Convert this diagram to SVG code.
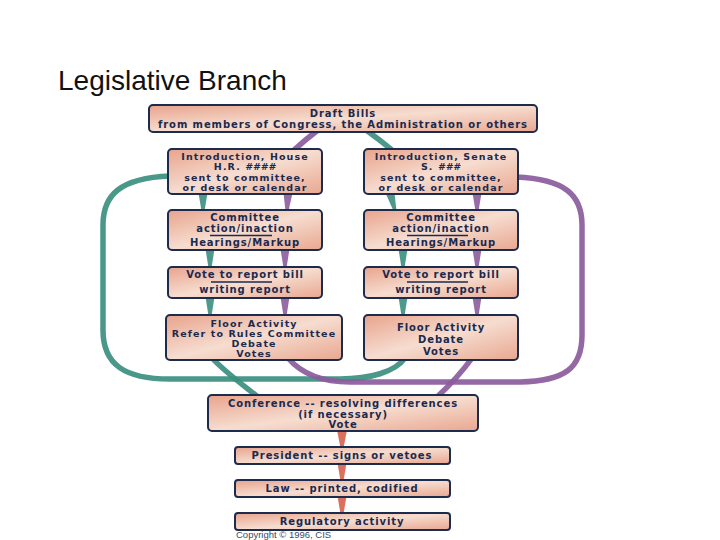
<svg xmlns="http://www.w3.org/2000/svg" width="720" height="540" viewBox="0 0 720 540">
<defs>
<linearGradient id="boxfill" x1="0" y1="0" x2="1" y2="1">
<stop offset="0" stop-color="#e8a38c"/>
<stop offset="0.5" stop-color="#f6ddd0"/>
<stop offset="1" stop-color="#e9a790"/>
</linearGradient>
<style>
.box{fill:url(#boxfill);stroke:#1d2b4d;stroke-width:2}
.t{font-family:"DejaVu Sans",Verdana,sans-serif;font-weight:bold;font-size:10px;letter-spacing:0.9px;fill:#1b2a4e;text-anchor:middle}
.t4{font-size:9.5px;letter-spacing:1.1px}
.sep{stroke:#1b2a4e;stroke-width:1.3}
.teal{fill:none;stroke:#3a8f7f;stroke-width:5.5;stroke-opacity:0.92}
.purple{fill:none;stroke:#8b5b9c;stroke-width:5.5;stroke-opacity:0.92}
.tealw{fill:#3a8f7f;fill-opacity:0.9}
.purplew{fill:#8b5b9c;fill-opacity:0.9}
.redw{fill:#d7604c;fill-opacity:0.9}
.title{font-family:"Liberation Sans",Arial,sans-serif;font-size:28px;fill:#111}
.copy{font-family:"Liberation Sans",Arial,sans-serif;font-size:9.5px;fill:#3a4a6a}
</style>
</defs>
<rect width="720" height="540" fill="#ffffff"/>
<text class="title" x="58" y="90">Legislative Branch</text>

<g id="connectors">
<path class="teal" d="M366,130 Q380,140 392,150"/>
<path class="tealw" d="M198.5,193 L207.5,193 L204.5,211 L201.5,211 Z"/>
<path class="tealw" d="M205.5,249 L214.5,249 L211.5,268 L208.5,268 Z"/>
<path class="tealw" d="M205.5,297 L214.5,297 L211.5,316 L208.5,316 Z"/>
<path class="tealw" d="M385.5,193 L394.5,193 L396.5,211 L393.5,211 Z"/>
<path class="tealw" d="M398.5,249 L407.5,249 L404.5,268 L401.5,268 Z"/>
<path class="tealw" d="M398.5,297 L407.5,297 L404.5,316 L401.5,316 Z"/>
<path class="teal" d="M405,358 C395,372 370,379 340,379 L170,379 C125,379 103,365 103,330 L103,225 C103,195 120,178 170,176"/>
<path class="teal" d="M212,358 C225,372 243,385 258,397"/>
<path class="purple" d="M318,130 Q305,140 294,150"/>
<path class="purplew" d="M283.5,193 L292.5,193 L288.5,211 L285.5,211 Z"/>
<path class="purplew" d="M280.5,249 L289.5,249 L286.5,268 L283.5,268 Z"/>
<path class="purplew" d="M280.5,297 L289.5,297 L286.5,316 L283.5,316 Z"/>
<path class="purplew" d="M472.5,193 L481.5,193 L478.5,211 L475.5,211 Z"/>
<path class="purplew" d="M472.5,249 L481.5,249 L478.5,268 L475.5,268 Z"/>
<path class="purplew" d="M472.5,297 L481.5,297 L478.5,316 L475.5,316 Z"/>
<path class="purple" d="M288,358 C300,372 320,382 350,382 L520,382 C565,381 582,368 582,335 L582,225 C582,195 565,179 516,177"/>
<path class="purple" d="M472,358 C462,372 450,385 437,397"/>
<path class="redw" d="M337,430 L347,430 L343.5,448 L340.5,448 Z"/>
<path class="redw" d="M337.5,463 L346.5,463 L343.5,481 L340.5,481 Z"/>
<path class="redw" d="M337.5,496 L346.5,496 L343.5,514 L340.5,514 Z"/>
</g>

<g id="draft">
<rect class="box" x="149" y="105" width="388" height="27" rx="4"/>
<text class="t" x="343" y="117">Draft Bills</text>
<text class="t" x="343" y="128">from members of Congress, the Administration or others</text>
</g>

<g id="house-intro">
<rect class="box" x="168" y="149" width="154" height="45" rx="4"/>
<text class="t t4" x="245" y="160">Introduction, House</text>
<text class="t t4" x="245" y="170">H.R. <tspan font-style="italic">####</tspan></text>
<text class="t t4" x="245" y="180.5">sent to committee,</text>
<text class="t t4" x="245" y="190.5">or desk or calendar</text>
</g>

<g id="senate-intro">
<rect class="box" x="364" y="149" width="154" height="45" rx="4"/>
<text class="t t4" x="441" y="160">Introduction, Senate</text>
<text class="t t4" x="441" y="170">S. <tspan font-style="italic">###</tspan></text>
<text class="t t4" x="441" y="180.5">sent to committee,</text>
<text class="t t4" x="441" y="190.5">or desk or calendar</text>
</g>

<g id="house-committee">
<rect class="box" x="168" y="210" width="154" height="40" rx="4"/>
<text class="t" x="245" y="221">Committee</text>
<text class="t" x="245" y="232">action/inaction</text>
<line class="sep" x1="210" y1="235.5" x2="272" y2="235.5"/>
<text class="t" x="245" y="246">Hearings/Markup</text>
</g>

<g id="senate-committee">
<rect class="box" x="364" y="210" width="154" height="40" rx="4"/>
<text class="t" x="441" y="221">Committee</text>
<text class="t" x="441" y="232">action/inaction</text>
<line class="sep" x1="407" y1="235.5" x2="468" y2="235.5"/>
<text class="t" x="441" y="246">Hearings/Markup</text>
</g>

<g id="house-vote">
<rect class="box" x="168" y="267" width="154" height="31" rx="4"/>
<text class="t" x="245" y="278">Vote to report bill</text>
<line class="sep" x1="211" y1="282" x2="272" y2="282"/>
<text class="t" x="245" y="293">writing report</text>
</g>

<g id="senate-vote">
<rect class="box" x="364" y="267" width="154" height="31" rx="4"/>
<text class="t" x="441" y="278">Vote to report bill</text>
<line class="sep" x1="407" y1="282" x2="468" y2="282"/>
<text class="t" x="441" y="293">writing report</text>
</g>

<g id="house-floor">
<rect class="box" x="166" y="315" width="176" height="45" rx="4"/>
<text class="t t4" x="254" y="326.5">Floor Activity</text>
<text class="t t4" x="254" y="336.5">Refer to Rules Committee</text>
<text class="t t4" x="254" y="346.5">Debate</text>
<text class="t t4" x="254" y="356.5">Votes</text>
</g>

<g id="senate-floor">
<rect class="box" x="364" y="315" width="154" height="45" rx="4"/>
<text class="t" x="441" y="331">Floor Activity</text>
<text class="t" x="441" y="343">Debate</text>
<text class="t" x="441" y="355">Votes</text>
</g>

<g id="conference">
<rect class="box" x="208" y="395" width="270" height="36" rx="4"/>
<text class="t" x="343" y="407">Conference -- resolving differences</text>
<text class="t" x="343" y="418">(if necessary)</text>
<text class="t" x="343" y="428">Vote</text>
</g>

<g id="president">
<rect class="box" x="235" y="447" width="215" height="17" rx="3"/>
<text class="t" x="342" y="459">President -- signs or vetoes</text>
</g>

<g id="law">
<rect class="box" x="235" y="480" width="215" height="17" rx="3"/>
<text class="t" x="342" y="492">Law -- printed, codified</text>
</g>

<g id="regulatory">
<rect class="box" x="235" y="513" width="215" height="17" rx="3"/>
<text class="t" x="342" y="525">Regulatory activity</text>
</g>

<text class="copy" x="236" y="538">Copyright © 1996, CIS</text>
</svg>
